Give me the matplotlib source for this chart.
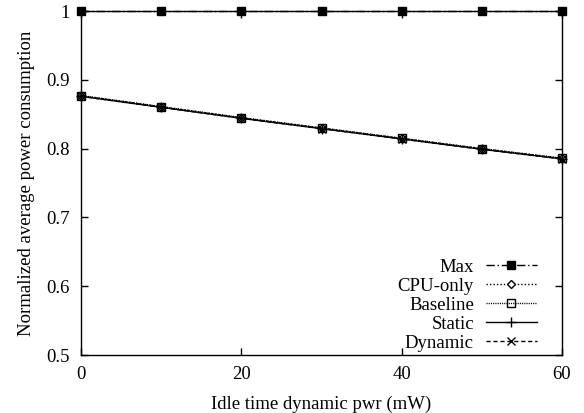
import matplotlib
matplotlib.use("Agg")
import matplotlib.pyplot as plt

# Idle time dynamic power (mW)
idle_pwr = [0, 10, 20, 30, 40, 50, 60]

max_pwr = [1.0, 1.0, 1.0, 1.0, 1.0, 1.0, 1.0]
cpu_only = [0.877, 0.861, 0.845, 0.830, 0.815, 0.800, 0.786]
baseline = [0.877, 0.861, 0.845, 0.830, 0.815, 0.800, 0.786]
static = [0.876, 0.860, 0.844, 0.829, 0.814, 0.799, 0.785]
dynamic = [0.876, 0.860, 0.844, 0.829, 0.814, 0.799, 0.785]

plt.rcParams['font.family'] = ['Liberation Serif', 'DejaVu Serif']
plt.rcParams['font.size'] = 13.5

fig = plt.figure(figsize=(5.84, 4.13), dpi=100)
ax = fig.add_axes([81 / 584, 1 - 355 / 413, (562 - 81) / 584, (355 - 11) / 413])

ax.plot(idle_pwr, max_pwr, color='black', lw=1, ls=(0, (6, 2, 1, 2)),
        marker='s', ms=6, label='Max', clip_on=False, zorder=5)
ax.plot(idle_pwr, cpu_only, color='black', lw=1, ls=(0, (1, 1.5)),
        marker='D', ms=4.5, mfc='white', label='CPU-only', clip_on=False)
ax.plot(idle_pwr, baseline, color='black', lw=1, ls=(0, (0.8, 0.8)),
        marker='s', ms=6, mfc='none', label='Baseline', clip_on=False)
ax.plot(idle_pwr, static, color='black', lw=1, ls='-',
        marker='+', ms=7, label='Static', clip_on=False)
ax.plot(idle_pwr, dynamic, color='black', lw=1, ls=(0, (3, 2)),
        marker='x', ms=5.5, label='Dynamic', clip_on=False)

ax.set_xlim(0, 60)
ax.set_ylim(0.5, 1.0)
ax.set_xticks([0, 20, 40, 60])
ax.set_yticks([0.5, 0.6, 0.7, 0.8, 0.9, 1.0])
ax.set_yticklabels(['0.5', '0.6', '0.7', '0.8', '0.9', '1'])
ax.tick_params(direction='in', top=True, right=True, length=5, width=1, pad=8)
for s in ax.spines.values():
    s.set_linewidth(1)

ax.set_xlabel('Idle time dynamic pwr (mW)', labelpad=9)
ax.set_ylabel('Normalized average power consumption', labelpad=8)

leg = ax.legend(loc='lower right', bbox_to_anchor=(0.9626, -0.012),
                frameon=False, markerfirst=False,
                handlelength=2.7, handletextpad=0.64, labelspacing=0.1,
                borderaxespad=0, fontsize=13.5)
for t in leg.get_texts():
    t.set_ha('right')

fig.savefig('out.png', dpi=100)
